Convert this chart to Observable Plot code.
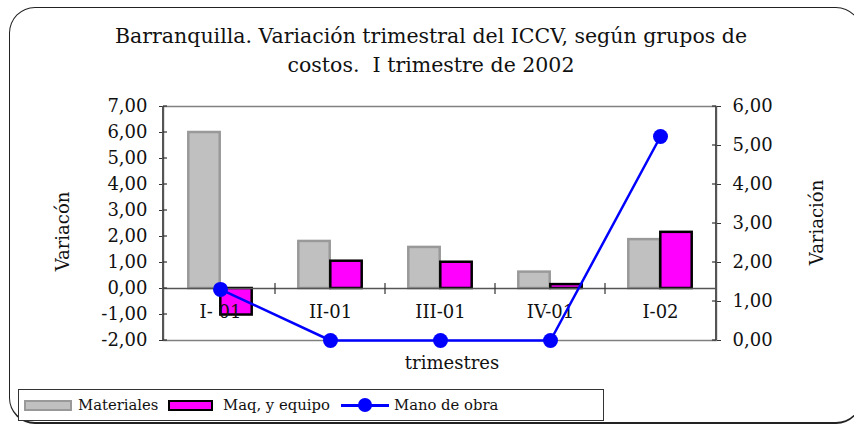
<!DOCTYPE html>
<html><head><meta charset="utf-8">
<script src="https://cdn.jsdelivr.net/npm/d3@7"></script>
<script src="https://cdn.jsdelivr.net/npm/@observablehq/plot@0.6"></script>
<style>
body{margin:0;background:#fff;}
#wrap{position:relative;width:854px;height:425px;overflow:hidden;font-family:"DejaVu Serif",serif;color:#111;}
#frame{position:absolute;left:9px;top:7px;width:853px;height:417px;border:1.5px solid #222;border-bottom-width:2.5px;border-radius:26px;box-sizing:border-box;}
#title{position:absolute;left:0;top:22px;width:862px;text-align:center;font-size:20.5px;line-height:29px;white-space:pre;}
#chart{position:absolute;left:0;top:0;}
#legend{position:absolute;left:18px;top:389px;width:586px;height:32px;border:1px solid #333;box-sizing:border-box;background:#fff;font-size:14.8px;}
#legend .it{position:absolute;top:0;height:30px;line-height:30px;}
#legend .sw{position:absolute;box-sizing:border-box;}
</style></head>
<body>
<div id="wrap">
  <div id="frame"></div>
  <div id="chart"></div>
  <div id="title"></div>
  <div id="legend"></div>
</div>
<script>
const titleLines = ["Barranquilla. Variación trimestral del ICCV, según grupos de", "costos.  I trimestre de 2002"];
const categories = ["I- 01", "II-01", "III-01", "IV-01", "I-02"];
const materiales = [6.00, 1.81, 1.58, 0.63, 1.88];
const maquinaria = [-1.02, 1.05, 1.01, 0.15, 2.16];
const manoObra = [1.31, 0.00, 0.00, 0.00, 5.23];
const leftTicks = [-2, -1, 0, 1, 2, 3, 4, 5, 6, 7];
const rightTicks = [0, 1, 2, 3, 4, 5, 6];
const seriesNames = ["Materiales", "Maq, y equipo", "Mano de obra"];
const xLabel = "trimestres";
const yLabelLeft = "Variacón";
const yLabelRight = "Variación";

document.getElementById("title").textContent = titleLines.join("\n");

const fmt = d => (Math.round(d * 100) / 100).toFixed(2).replace(".", ",");
// right axis [0,6] mapped onto left axis [-2,7]
const toLeft = v => -2 + v * 1.5;
const fromLeft = d => (d + 2) / 1.5;

const W = 854, H = 425, mL = 163, mR = 138, mT = 106, mB = 85;
const bw = (W - mL - mR) / categories.length;
const barW = 32;
const inset = (bw - barW) / 2;

const rows = categories.map((c, i) => ({c, mat: materiales[i], maq: maquinaria[i], mo: manoObra[i]}));

const axisLines = (index, scales, values, dim) => {
  const g = d3.create("svg:g");
  const x0 = dim.marginLeft, x1 = dim.width - dim.marginRight;
  const y0 = dim.marginTop, y1 = dim.height - dim.marginBottom;
  g.append("line").attr("x1", x0).attr("x2", x0).attr("y1", y0).attr("y2", y1).attr("stroke", "#555").attr("stroke-width", 2);
  g.append("line").attr("x1", x1).attr("x2", x1).attr("y1", y0).attr("y2", y1).attr("stroke", "#555").attr("stroke-width", 2);
  const yz = scales.y(0);
  categories.slice(1).forEach(c => {
    const xb = scales.x(c);
    g.append("line").attr("x1", xb).attr("x2", xb).attr("y1", yz - 5).attr("y2", yz + 6).attr("stroke", "#333").attr("stroke-width", 1.2);
  });
  leftTicks.forEach(t => {
    const yy = scales.y(t);
    g.append("line").attr("x1", x0).attr("x2", x0 + 4).attr("y1", yy).attr("y2", yy).attr("stroke", "#333").attr("stroke-width", 1.2);
  });
  rightTicks.forEach(t => {
    const yy = scales.y(toLeft(t));
    g.append("line").attr("x1", x1 - 4).attr("x2", x1).attr("y1", yy).attr("y2", yy).attr("stroke", "#333").attr("stroke-width", 1.2);
  });
  return g.node();
};

const chart = Plot.plot({
  width: W, height: H,
  marginLeft: mL, marginRight: mR, marginTop: mT, marginBottom: mB,
  style: {fontFamily: "DejaVu Serif", fontSize: "18px", color: "#111", background: "transparent", overflow: "visible"},
  x: {domain: categories, padding: 0, axis: null},
  y: {domain: [-2, 7], axis: null},
  marks: [
    Plot.frame({stroke: "#808080", strokeWidth: 1.5}),
    Plot.barY(rows, {x: "c", y: "mat", fill: "#c0c0c0", stroke: "#999999", strokeWidth: 2.5, insetLeft: inset, insetRight: inset, dx: -16}),
    Plot.barY(rows, {x: "c", y: "maq", fill: "#ff00ff", stroke: "#000", strokeWidth: 2.5, insetLeft: inset, insetRight: inset, dx: 16}),
    Plot.ruleY([0], {stroke: "#555", strokeWidth: 1.5}),
    Plot.text(categories, {x: d => d, y: () => 0, dy: 24, fontSize: 18, fill: "#111"}),
    Plot.line(rows, {x: "c", y: d => toLeft(d.mo), stroke: "#0000ff", strokeWidth: 2.5}),
    Plot.dot(rows, {x: "c", y: d => toLeft(d.mo), r: 7.5, fill: "#0000ff"}),
    Plot.axisY({anchor: "left", ticks: leftTicks, tickFormat: fmt, tickSize: 4, tickPadding: 12, fontSize: 18, label: null, stroke: "#333"}),
    Plot.axisY({anchor: "right", ticks: rightTicks.map(toLeft), tickFormat: d => fmt(fromLeft(d)), tickSize: 4, tickPadding: 12, fontSize: 18, label: null, stroke: "#333"}),
    axisLines,
    Plot.text([xLabel], {frameAnchor: "bottom", dy: 28, dx: 12, fontSize: 18, fill: "#111"}),
    Plot.text([yLabelLeft], {frameAnchor: "left", textAnchor: "middle", dx: -100, dy: 8, rotate: -90, fontSize: 18, fill: "#111"}),
    Plot.text([yLabelRight], {frameAnchor: "right", textAnchor: "middle", dx: 101, dy: -1, rotate: -90, fontSize: 18, fill: "#111"})
  ]
});
document.getElementById("chart").appendChild(chart);

// legend
const lg = document.getElementById("legend");
const add = (html) => { const d = document.createElement("div"); d.innerHTML = html; lg.appendChild(d.firstChild); };
add(`<div class="sw" style="left:5px;top:10px;width:48px;height:11px;background:#c0c0c0;border:2px solid #999"></div>`);
add(`<div class="it" style="left:59px">${seriesNames[0]}</div>`);
add(`<div class="sw" style="left:149px;top:10px;width:45px;height:11px;background:#ff00ff;border:2px solid #000"></div>`);
add(`<div class="it" style="left:204px">${seriesNames[1]}</div>`);
add(`<div class="sw" style="left:322px;top:14px;width:48px;height:2.5px;background:#0000ff"></div>`);
add(`<div class="sw" style="left:339px;top:8px;width:14px;height:14px;border-radius:50%;background:#0000ff"></div>`);
add(`<div class="it" style="left:375px">${seriesNames[2]}</div>`);
</script>
</body></html>
